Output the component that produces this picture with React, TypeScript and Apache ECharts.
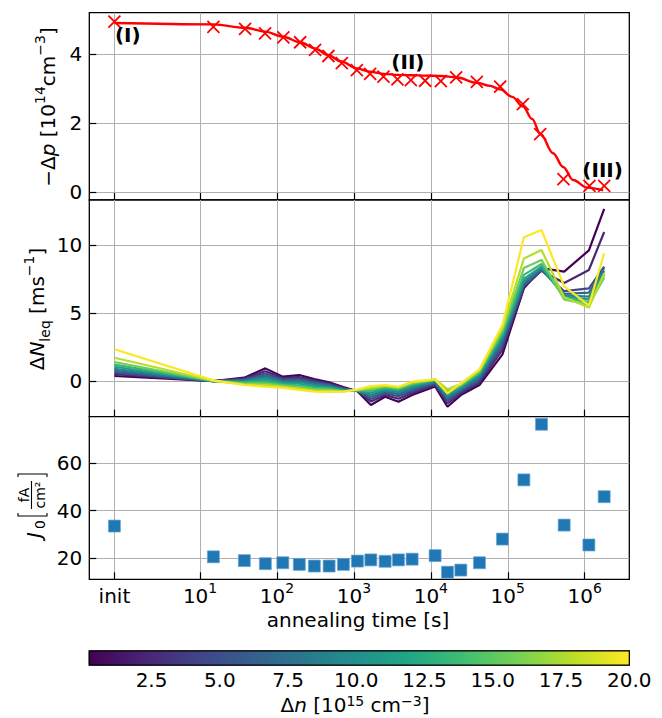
import React, { useEffect, useRef } from 'react';
import * as echarts from 'echarts';

// ---------- data ----------
const INIT_T = 0.77; // position used for the "init" state (s)

// Top panel: -Δp measurements
const dpTimes = [INIT_T, 14.9, 38.5, 70, 121, 200, 313, 466, 696, 1092, 1626, 2422, 3680, 5500, 8430, 13490, 21330, 39630, 79650, 157000, 263800, 529500, 1153000, 1793000];
const dpValues = [4.95, 4.80, 4.74, 4.61, 4.49, 4.35, 4.13, 3.95, 3.74, 3.54, 3.43, 3.35, 3.27, 3.25, 3.23, 3.22, 3.33, 3.20, 3.06, 2.55, 1.68, 0.37, 0.17, 0.17];

// Top panel: fitted curve
const fitTimes = [INIT_T, 14.8, 38.5, 70, 120, 200, 313, 462, 683, 1100, 1630, 2470, 3760, 5710, 8430, 13600, 21300, 40000, 59000, 79600, 114000, 158000, 207000, 264000, 389000, 525000, 708000, 1080000, 1740000];
const fitValues = [4.91, 4.87, 4.77, 4.66, 4.51, 4.35, 4.17, 3.98, 3.79, 3.59, 3.49, 3.43, 3.40, 3.39, 3.38, 3.37, 3.33, 3.17, 3.08, 2.98, 2.76, 2.48, 2.12, 1.70, 1.12, 0.72, 0.34, 0.12, 0.04];

// Annotations in top panel
const annoLabels = ['(I)', '(II)', '(III)'];
const annoTimes = [INIT_T, 3020, 918000];
const annoValues = [4.56, 3.78, 0.63];

// Middle + bottom panels: lifetime measurement times
const lifeTimes = [INIT_T, 14.9, 37.6, 70.6, 119, 195, 306, 476, 730, 1110, 1659, 2545, 3790, 5713, 11370, 16440, 24550, 42850, 85330, 162000, 274400, 541200, 1134000, 1793000];

// Injection levels Δn [1e15 cm^-3] for each ΔN_eq curve
const deltaN = [0.22, 2.4, 4.6, 6.8, 9.0, 11.2, 13.4, 15.6, 17.8, 20.0];

const dNeq0 = [0.37, 0.00, 0.25, 0.93, 0.32, 0.44, 0.15, -0.10, -0.45, -0.75, -1.76, -1.15, -1.52, -1.03, -0.40, -1.89, -1.03, -0.29, 1.96, 6.81, 8.30, 8.04, 9.60, 12.65];
const dNeq1 = [0.50, 0.00, 0.18, 0.72, 0.22, 0.30, 0.05, -0.18, -0.50, -0.74, -1.50, -1.02, -1.30, -0.88, -0.30, -1.65, -0.90, -0.12, 2.30, 6.90, 8.10, 7.20, 8.16, 10.95];
const dNeq2 = [0.60, 0.00, 0.12, 0.55, 0.12, 0.18, -0.05, -0.25, -0.55, -0.73, -1.32, -0.90, -1.12, -0.74, -0.20, -1.45, -0.78, 0.05, 2.60, 7.00, 8.15, 6.60, 6.81, 8.40];
const dNeq3 = [0.75, 0.00, 0.06, 0.40, 0.03, 0.06, -0.15, -0.32, -0.60, -0.72, -1.16, -0.78, -0.96, -0.60, -0.10, -1.30, -0.65, 0.20, 2.90, 7.10, 8.20, 6.40, 6.50, 8.30];
const dNeq4 = [0.90, 0.00, 0.00, 0.25, -0.06, -0.07, -0.26, -0.40, -0.64, -0.71, -1.00, -0.68, -0.82, -0.48, -0.03, -1.15, -0.55, 0.35, 3.10, 7.30, 8.30, 6.30, 6.20, 8.10];
const dNeq5 = [1.05, 0.00, -0.06, 0.10, -0.15, -0.20, -0.38, -0.48, -0.68, -0.70, -0.86, -0.58, -0.70, -0.36, 0.03, -1.00, -0.45, 0.50, 3.30, 7.50, 8.40, 6.20, 6.00, 7.90];
const dNeq6 = [1.20, 0.00, -0.12, -0.05, -0.24, -0.33, -0.50, -0.56, -0.72, -0.68, -0.72, -0.48, -0.60, -0.26, 0.08, -0.85, -0.36, 0.60, 3.50, 7.80, 8.60, 6.10, 5.80, 7.80];
const dNeq7 = [1.40, 0.00, -0.18, -0.18, -0.33, -0.45, -0.60, -0.64, -0.75, -0.66, -0.60, -0.40, -0.52, -0.17, 0.11, -0.70, -0.28, 0.70, 3.70, 8.30, 8.90, 6.00, 5.60, 7.60];
const dNeq8 = [1.71, 0.02, -0.24, -0.30, -0.42, -0.56, -0.70, -0.72, -0.77, -0.64, -0.48, -0.34, -0.46, -0.10, 0.12, -0.60, -0.22, 0.80, 3.90, 9.00, 9.63, 6.15, 5.40, 7.90];
const dNeq9 = [2.33, 0.05, -0.29, -0.42, -0.50, -0.66, -0.78, -0.80, -0.78, -0.62, -0.37, -0.29, -0.42, -0.05, 0.12, -0.90, -0.17, 0.86, 4.12, 10.56, 11.10, 6.95, 5.55, 9.39];
const dNeqCurves = [dNeq0, dNeq1, dNeq2, dNeq3, dNeq4, dNeq5, dNeq6, dNeq7, dNeq8, dNeq9];

// Bottom panel: J0 [fA/cm^2]
const j0Values = [33.5, 20.5, 18.9, 17.6, 18.0, 17.3, 16.6, 16.6, 17.3, 18.7, 19.2, 18.6, 19.2, 19.5, 21.0, 14.0, 14.9, 18.0, 28.0, 53.0, 76.5, 33.9, 25.5, 45.9];

// Axis ticks
const xTickExps = [1, 2, 3, 4, 5, 6];
const topTicks = [0, 2, 4];
const midTicks = [0, 5, 10];
const botTicks = [20, 40, 60];
const cbTicks = [2.5, 5.0, 7.5, 10.0, 12.5, 15.0, 17.5, 20.0];
const CB_MIN = 0.22;
const CB_MAX = 20.0;

// ---------- helpers ----------
const VIRIDIS = ['#440154', '#482475', '#414487', '#355f8d', '#2a788e', '#21918c', '#22a884', '#44bf70', '#7ad151', '#bddf26', '#fde725'];
function hexToRgb(h: string) {
  return [parseInt(h.slice(1, 3), 16), parseInt(h.slice(3, 5), 16), parseInt(h.slice(5, 7), 16)];
}
function viridis(t: number) {
  const x = Math.max(0, Math.min(1, t)) * (VIRIDIS.length - 1);
  const i = Math.min(VIRIDIS.length - 2, Math.floor(x));
  const f = x - i;
  const a = hexToRgb(VIRIDIS[i]);
  const b = hexToRgb(VIRIDIS[i + 1]);
  const c = a.map((v, k) => Math.round(v + (b[k] - v) * f));
  return `rgb(${c[0]},${c[1]},${c[2]})`;
}

const FONT = 'DejaVu Sans';
const FS = 20; // main font size
const FS_SMALL = 14;
const L = Math.log10;
const XMIN = -0.44;
const XMAX = 6.58;
const INIT_LOG = L(INIT_T);
const xTickValues = [INIT_LOG, ...xTickExps];

const GRID_LEFT = 89.3;
const GRID_WIDTH = 540;

function buildOption() {
  const gridStyle = { show: true, borderColor: '#000', borderWidth: 1.3, backgroundColor: '#fff', outerBoundsMode: 'none' };
  const grids = [
    { ...gridStyle, left: GRID_LEFT, width: GRID_WIDTH, top: 12.7, height: 187.3 },
    { ...gridStyle, left: GRID_LEFT, width: GRID_WIDTH, top: 200, height: 216.7 },
    { ...gridStyle, left: GRID_LEFT, width: GRID_WIDTH, top: 416.7, height: 162.6 },
    { ...gridStyle, left: GRID_LEFT, width: GRID_WIDTH, top: 651, height: 14 },
  ];

  const mkX = (gi: number) => ({
    type: 'value',
    gridIndex: gi,
    min: XMIN,
    max: XMAX,
    axisLine: { show: false, onZero: false },
    axisTick: { show: true, inside: true, length: 7, customValues: xTickValues, lineStyle: { color: '#000', width: 1.2 } },
    splitLine: { show: true, lineStyle: { color: '#b0b0b0', width: 1 } },
    axisLabel: {
      show: gi === 2,
      customValues: xTickValues,
      margin: 2,
      color: '#000',
      fontFamily: FONT,
      fontSize: FS,
      formatter: (v: number) => (Math.abs(v - INIT_LOG) < 1e-6 ? '{b|init}' : `{b|10}{sup|${Math.round(v)}}`),
      rich: {
        b: { fontSize: FS, lineHeight: 30, color: '#000', fontFamily: FONT },
        sup: { fontSize: FS_SMALL, lineHeight: 14, verticalAlign: 'top', color: '#000', fontFamily: FONT },
      },
    },
  });

  const mkY = (gi: number, min: number, max: number, ticks: number[], interval: number) => ({
    type: 'value',
    gridIndex: gi,
    min,
    max,
    interval,
    axisLine: { show: false, onZero: false },
    axisTick: { show: true, inside: true, length: 7, customValues: ticks, lineStyle: { color: '#000', width: 1.2 } },
    splitLine: { show: true, lineStyle: { color: '#b0b0b0', width: 1 } },
    axisLabel: { customValues: ticks, margin: 7, color: '#000', fontFamily: FONT, fontSize: FS },
  });

  const xAxes = [
    mkX(0),
    mkX(1),
    mkX(2),
    {
      type: 'value',
      gridIndex: 3,
      min: CB_MIN,
      max: CB_MAX,
      axisLine: { show: false, onZero: false },
      axisTick: { show: false },
      splitLine: { show: false },
      axisLabel: {
        customValues: cbTicks,
        margin: 5,
        color: '#000',
        fontFamily: FONT,
        fontSize: FS,
        formatter: (v: number) => v.toFixed(1),
      },
    },
  ];
  const yAxes = [
    mkY(0, -0.24, 5.21, topTicks, 2),
    mkY(1, -2.62, 13.3, midTicks, 5),
    mkY(2, 11.0, 79.7, botTicks, 20),
    { type: 'value', gridIndex: 3, min: 0, max: 1, show: false, splitLine: { show: false } },
  ];

  const series: any[] = [];

  // Top: fitted curve
  series.push({
    type: 'line',
    xAxisIndex: 0,
    yAxisIndex: 0,
    data: fitTimes.map((t, i) => [L(t), fitValues[i]]),
    showSymbol: false,
    smooth: 0.35,
    smoothMonotone: 'x',
    lineStyle: { color: '#ff0000', width: 2.4 },
    z: 3,
    silent: true,
  });
  // Top: measurements (x markers)
  series.push({
    type: 'scatter',
    xAxisIndex: 0,
    yAxisIndex: 0,
    data: dpTimes.map((t, i) => [L(t), dpValues[i]]),
    symbol: 'path://M0,0L10,10M10,0L0,10',
    symbolSize: 12,
    itemStyle: { color: 'rgba(0,0,0,0)', borderColor: '#ff0000', borderWidth: 1.8, opacity: 1 },
    z: 4,
    silent: true,
  });
  // Top: annotations
  series.push({
    type: 'scatter',
    xAxisIndex: 0,
    yAxisIndex: 0,
    data: annoTimes.map((t, i) => [L(t), annoValues[i], annoLabels[i]]),
    symbolSize: 1,
    itemStyle: { color: 'rgba(0,0,0,0)', opacity: 1 },
    label: {
      show: true,
      position: 'right',
      distance: 0,
      formatter: (p: any) => p.data[2],
      color: '#000',
      fontFamily: FONT,
      fontSize: FS,
      fontWeight: 'bold',
      opacity: 1,
    },
    z: 6,
    silent: true,
  });

  // Middle: ΔN_eq curves
  dNeqCurves.forEach((vals, k) => {
    series.push({
      type: 'line',
      xAxisIndex: 1,
      yAxisIndex: 1,
      data: lifeTimes.map((t, i) => [L(t), vals[i]]),
      showSymbol: false,
      lineStyle: { color: viridis((deltaN[k] - CB_MIN) / (CB_MAX - CB_MIN)), width: 2.2 },
      z: 3 + k * 0.01,
      silent: true,
    });
  });

  // Bottom: J0 squares
  series.push({
    type: 'scatter',
    xAxisIndex: 2,
    yAxisIndex: 2,
    data: lifeTimes.map((t, i) => [L(t), j0Values[i]]),
    symbol: 'rect',
    symbolSize: 12,
    itemStyle: { color: '#1f77b4', borderColor: '#6fa6d3', borderWidth: 0.7, opacity: 1 },
    z: 4,
    silent: true,
  });

  // Colorbar
  const stops = VIRIDIS.map((c, i) => ({ offset: i / (VIRIDIS.length - 1), color: c }));
  series.push({
    type: 'custom',
    xAxisIndex: 3,
    yAxisIndex: 3,
    data: [[CB_MIN, CB_MAX]],
    silent: true,
    renderItem: (params: any, api: any) => {
      const p0 = api.coord([api.value(0), 0]);
      const p1 = api.coord([api.value(1), 1]);
      return {
        type: 'rect',
        shape: { x: p0[0], y: p1[1], width: p1[0] - p0[0], height: p0[1] - p1[1] },
        style: { fill: new echarts.graphic.LinearGradient(0, 0, 1, 0, stops), stroke: '#000', lineWidth: 1.2 },
      };
    },
  });

  const titleRich = {
    i: { fontStyle: 'italic', fontSize: FS, lineHeight: 30, fontFamily: FONT, fill: '#000' },
    sup: { fontSize: FS_SMALL, lineHeight: 12, verticalAlign: 'top', fontFamily: FONT, fill: '#000' },
    sub: { fontSize: FS_SMALL, lineHeight: 20, verticalAlign: 'bottom', fontFamily: FONT, fill: '#000' },
  };
  const baseText = { fontSize: FS, fontFamily: FONT, fill: '#000', lineHeight: 30, align: 'center', verticalAlign: 'middle', rich: titleRich };
  const cbTitleRich = {
    i: { fontStyle: 'italic', fontSize: FS, lineHeight: 22, fontFamily: FONT, fill: '#000' },
    sup: { fontSize: FS_SMALL, lineHeight: 12, verticalAlign: 'top', fontFamily: FONT, fill: '#000' },
  };
  const small = { fontSize: FS_SMALL, fontFamily: FONT, fill: '#000', verticalAlign: 'middle' };

  const graphic: any[] = [
    {
      type: 'text',
      x: 48,
      y: 107,
      rotation: Math.PI / 2,
      style: { ...baseText, text: '−Δ{i|p} [10{sup|14}cm{sup|−3}]' },
      silent: true,
    },
    {
      type: 'text',
      x: 37,
      y: 309,
      rotation: Math.PI / 2,
      style: { ...baseText, text: 'Δ{i|N}{sub|leq} [ms{sup|−1}]' },
      silent: true,
    },
    {
      type: 'group',
      x: 33,
      y: 502,
      rotation: Math.PI / 2,
      silent: true,
      children: [
        { type: 'text', x: -36, y: 1, style: { text: 'J', fontSize: FS, fontStyle: 'italic', fontFamily: FONT, fill: '#000', align: 'left', verticalAlign: 'middle' } },
        { type: 'text', x: -27, y: 7, style: { ...small, text: '0', align: 'left' } },
        { type: 'polyline', shape: { points: [[-11, -15], [-14, -15], [-14, 14], [-11, 14]] }, style: { stroke: '#000', lineWidth: 1.1, fill: null } },
        { type: 'text', x: 7, y: -9, style: { ...small, text: 'fA', align: 'center' } },
        { type: 'line', shape: { x1: -7, y1: -1.5, x2: 21, y2: -1.5 }, style: { stroke: '#000', lineWidth: 1.1 } },
        { type: 'text', x: 7, y: 7, style: { ...small, text: 'cm²', align: 'center' } },
        { type: 'polyline', shape: { points: [[25, -15], [28, -15], [28, 14], [25, 14]] }, style: { stroke: '#000', lineWidth: 1.1, fill: null } },
      ],
    },
    {
      type: 'text',
      x: 358,
      y: 620,
      style: { text: 'annealing time [s]', fontSize: FS, fontFamily: FONT, fill: '#000', align: 'center', verticalAlign: 'middle' },
      silent: true,
    },
    {
      type: 'text',
      x: 355,
      y: 705,
      style: { fontSize: FS, fontFamily: FONT, fill: '#000', lineHeight: 22, align: 'center', verticalAlign: 'middle', rich: cbTitleRich, text: 'Δ{i|n} [10{sup|15} cm{sup|−3}]' },
      silent: true,
    },
  ];

  return {
    animation: false,
    backgroundColor: '#fff',
    textStyle: { fontFamily: FONT },
    grid: grids,
    xAxis: xAxes,
    yAxis: yAxes,
    series,
    graphic,
  };
}

export default function App() {
  const ref = useRef<HTMLDivElement>(null);
  useEffect(() => {
    if (!ref.current) return;
    const chart = echarts.init(ref.current, null, { renderer: 'svg' });
    chart.setOption(buildOption() as any);
    return () => chart.dispose();
  }, []);
  return <div ref={ref} style={{ position: 'fixed', left: 0, top: 0, width: 662, height: 718, background: '#fff' }} />;
}
